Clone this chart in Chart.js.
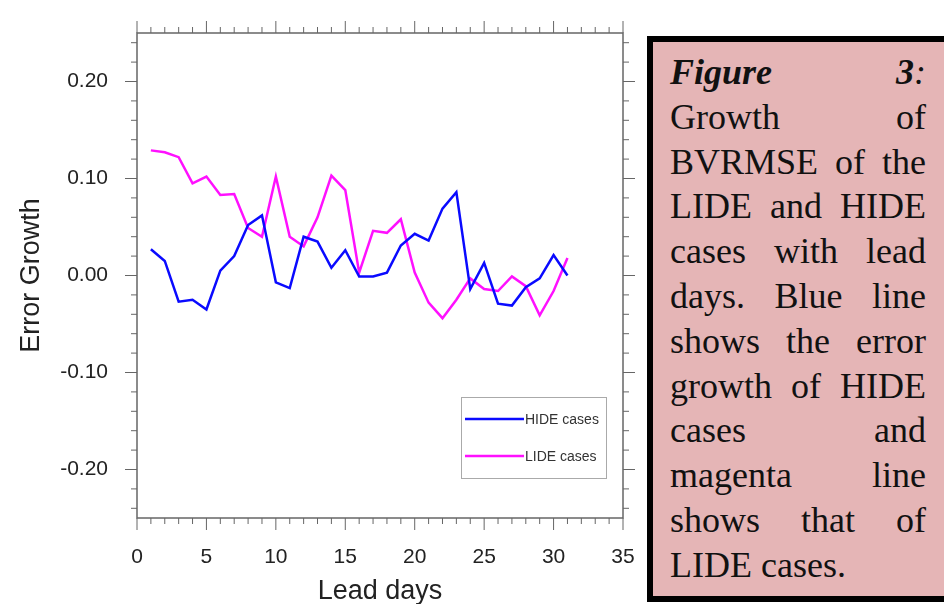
<!DOCTYPE html>
<html>
<head>
<meta charset="utf-8">
<script src="https://cdn.jsdelivr.net/npm/chart.js@4.4.1/dist/chart.umd.min.js"></script>
<style>
  html, body { margin: 0; padding: 0; background: #fff; width: 944px; height: 604px; overflow: hidden; }
  #wrap { position: absolute; left: 0; top: 0; width: 640px; height: 604px; }
  #caption {
    position: absolute; left: 647px; top: 36px; width: 320px; height: 566px;
    box-sizing: border-box; border: 6px solid #000; background: #e5b5b6;
    padding: 8px 0 0 17px;
    font-family: "Liberation Serif", "Times New Roman", serif;
    font-size: 36px; line-height: 44.8px; color: #111;
  }
  #caption div { width: 256px; text-align: justify; text-align-last: justify; }
  #caption div.last { text-align-last: left; }
</style>
</head>
<body>
<div id="wrap"><canvas id="myChart"></canvas></div>
<div id="caption">
  <div><b><i>Figure</i></b> <b><i>3</i></b><i>:</i></div>
  <div>Growth of</div>
  <div>BVRMSE of the</div>
  <div>LIDE and HIDE</div>
  <div>cases with lead</div>
  <div>days. Blue line</div>
  <div>shows the error</div>
  <div>growth of HIDE</div>
  <div>cases and</div>
  <div>magenta line</div>
  <div>shows that of</div>
  <div class="last">LIDE cases.</div>
</div>
<script>
const leadDays = [1, 2, 3, 4, 5, 6, 7, 8, 9, 10, 11, 12, 13, 14, 15, 16, 17, 18, 19, 20, 21, 22, 23, 24, 25, 26, 27, 28, 29, 30, 31];
const hideCases = [0.027, 0.015, -0.027, -0.025, -0.035, 0.005, 0.020, 0.052, 0.062, -0.007, -0.013, 0.040, 0.035, 0.008, 0.026, -0.001, -0.001, 0.003, 0.031, 0.043, 0.036, 0.069, 0.086, -0.014, 0.013, -0.029, -0.031, -0.012, -0.003, 0.021, 0.000];
const lideCases = [0.129, 0.127, 0.122, 0.095, 0.102, 0.083, 0.084, 0.049, 0.040, 0.102, 0.040, 0.030, 0.060, 0.103, 0.088, 0.003, 0.046, 0.044, 0.058, 0.003, -0.028, -0.044, -0.025, -0.003, -0.014, -0.016, -0.001, -0.011, -0.041, -0.016, 0.018];
const seriesLabels = ["HIDE cases", "LIDE cases"];
const xTickLabels = [0, 5, 10, 15, 20, 25, 30, 35];
const yTickLabels = [-0.20, -0.10, 0.00, 0.10, 0.20];

const sans = "'Liberation Sans', Arial, Helvetica, sans-serif";

// frame with outward major/minor ticks on all four sides, plus the boxed legend
const framePlugin = {
  id: "frame",
  afterDatasetsDraw(chart) {
    const ctx = chart.ctx;
    const a = chart.chartArea;
    const x = chart.scales.x;
    const y = chart.scales.y;
    ctx.save();
    ctx.strokeStyle = "#666";
    ctx.lineWidth = 1.5;
    ctx.strokeRect(a.left, a.top, a.right - a.left, a.bottom - a.top);
    ctx.lineWidth = 1;
    ctx.beginPath();
    for (let v = 0; v <= 35; v++) {
      const px = x.getPixelForValue(v);
      const len = v % 5 === 0 ? 12 : 6;
      ctx.moveTo(px, a.bottom); ctx.lineTo(px, a.bottom + len);
      ctx.moveTo(px, a.top); ctx.lineTo(px, a.top - len);
    }
    for (let i = -12; i <= 12; i++) {
      const py = y.getPixelForValue(i * 0.02);
      const len = i % 5 === 0 ? 12 : 6;
      ctx.moveTo(a.left, py); ctx.lineTo(a.left - len, py);
      ctx.moveTo(a.right, py); ctx.lineTo(a.right + len, py);
    }
    ctx.stroke();

    // legend
    ctx.strokeStyle = "#aaa";
    ctx.strokeRect(461.5, 397.5, 145, 81);
    ctx.font = "14px " + sans;
    ctx.textBaseline = "middle";
    ctx.fillStyle = "#333";
    chart.data.datasets.forEach((ds, i) => {
      const ly = 419 + i * 37;
      ctx.strokeStyle = ds.borderColor;
      ctx.lineWidth = 2.5;
      ctx.beginPath();
      ctx.moveTo(465, ly); ctx.lineTo(524, ly);
      ctx.stroke();
      ctx.fillText(ds.label, 525, ly + 1);
    });
    ctx.restore();
  }
};

const ctx = document.getElementById("myChart");

const data = {
  datasets: [
    {
      label: seriesLabels[0],
      data: leadDays.map((d, i) => ({ x: d, y: hideCases[i] })),
      borderColor: "#0a0aff",
      borderWidth: 2.5,
      pointRadius: 0,
      tension: 0,
      fill: false,
    },
    {
      label: seriesLabels[1],
      data: leadDays.map((d, i) => ({ x: d, y: lideCases[i] })),
      borderColor: "#ff10ff",
      borderWidth: 2.5,
      pointRadius: 0,
      tension: 0,
      fill: false,
    },
  ],
};

const config = {
  type: "line",
  data: data,
  options: {
    responsive: true,
    maintainAspectRatio: false,
    animation: false,
    layout: { padding: { top: 33, right: 17, bottom: 0, left: 0 } },
    plugins: {
      legend: { display: false },
      tooltip: { enabled: false },
    },
    scales: {
      x: {
        type: "linear",
        min: 0,
        max: 35,
        afterBuildTicks: (s) => { s.ticks = xTickLabels.map((v) => ({ value: v })); },
        afterFit: (s) => { s.height = 86; s.paddingLeft = 0; s.paddingRight = 0; },
        grid: { display: false, drawTicks: false },
        border: { display: false },
        ticks: {
          padding: 27,
          color: "#222",
          font: { family: sans, size: 21 },
          maxRotation: 0,
          callback: (v) => String(v),
        },
        title: {
          display: true,
          text: "Lead days",
          color: "#222",
          font: { family: sans, size: 27, lineHeight: 1 },
          padding: { top: 0, bottom: -1 },
        },
      },
      y: {
        min: -0.25,
        max: 0.25,
        afterBuildTicks: (s) => { s.ticks = yTickLabels.map((v) => ({ value: v })); },
        afterFit: (s) => { s.width = 137; s.paddingTop = 0; s.paddingBottom = 0; },
        grid: { display: false, drawTicks: false },
        border: { display: false },
        ticks: {
          padding: 29,
          color: "#222",
          font: { family: sans, size: 21 },
          callback: (v) => Number(v).toFixed(2),
        },
        title: {
          display: true,
          text: "Error Growth",
          color: "#222",
          font: { family: sans, size: 27, lineHeight: 1 },
          padding: { top: 18, bottom: 0 },
        },
      },
    },
  },
  plugins: [framePlugin],
};

new Chart(ctx, config);
</script>
</body>
</html>
